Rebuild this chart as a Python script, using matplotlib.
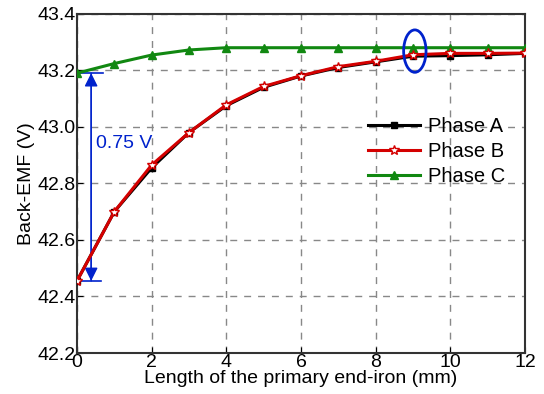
import matplotlib.pyplot as plt
from matplotlib.patches import Ellipse

plt.rcParams['font.family'] = ['Liberation Sans', 'DejaVu Sans']

length = [0, 1, 2, 3, 4, 5, 6, 7, 8, 9, 10, 11, 12]
phase_a = [42.455, 42.70, 42.855, 42.98, 43.075, 43.14, 43.18, 43.21, 43.23, 43.25, 43.252, 43.255, 43.26]
phase_b = [42.455, 42.70, 42.865, 42.98, 43.078, 43.143, 43.181, 43.213, 43.232, 43.255, 43.26, 43.26, 43.261]
phase_c = [43.19, 43.224, 43.254, 43.272, 43.28, 43.28, 43.28, 43.28, 43.28, 43.28, 43.28, 43.28, 43.28]

fig = plt.figure(figsize=(5.44, 3.94), dpi=100)
ax = fig.add_axes([0.1415, 0.104, 0.8235, 0.861])

ax.plot(length, phase_a, color='black', lw=2.2, marker='s', ms=5, label='Phase A', zorder=3)
ax.plot(length, phase_b, color='#d40000', lw=2.2, marker='*', ms=7, mfc='white', mec='#d40000', mew=1, label='Phase B', zorder=4)
ax.plot(length, phase_c, color='#118811', lw=2.2, marker='^', ms=6, label='Phase C', zorder=3)

# 0.75 V annotation
ax.annotate('', xy=(0.38, phase_b[0]), xytext=(0.38, phase_c[0]),
            arrowprops=dict(arrowstyle='-|>', color='#0022cc', lw=1, mutation_scale=20, shrinkA=0, shrinkB=0))
ax.annotate('', xy=(0.38, phase_c[0]), xytext=(0.38, phase_b[0]),
            arrowprops=dict(arrowstyle='-|>', color='#0022cc', lw=1, mutation_scale=20, shrinkA=0, shrinkB=0))
ax.plot([0, 0.7], [phase_c[0], phase_c[0]], color='#0022cc', lw=1.2)
ax.plot([0, 0.65], [phase_b[0], phase_b[0]], color='#0022cc', lw=1.2)
ax.text(0.52, 42.94, '0.75 V', color='#0022cc', fontsize=14, va='center')

ax.add_patch(Ellipse((9.05, 43.268), 0.6, 0.15, fill=False, ec='#0022cc', lw=2, zorder=5))

ax.set_xlim(0, 12)
ax.set_ylim(42.2, 43.4)
ax.set_xticks(range(0, 13, 2))
ax.set_yticks([42.2, 42.4, 42.6, 42.8, 43.0, 43.2, 43.4])
ax.set_yticklabels(['42.2', '42.4', '42.6', '42.8', '43.0', '43.2', '43.4'])
ax.grid(True, ls=(0, (5, 5)), color='#888888', lw=1)
ax.tick_params(direction='in', labelsize=14, pad=1, length=4)
for s in ax.spines.values():
    s.set_linewidth(1.5)
    s.set_color('#333333')

ax.set_xlabel('Length of the primary end-iron (mm)', fontsize=14, labelpad=-1)
ax.set_ylabel('Back-EMF (V)', fontsize=14, labelpad=2)

leg = ax.legend(loc='upper right', bbox_to_anchor=(0.975, 0.72), fontsize=14.5, frameon=False,
                handlelength=2.6, labelspacing=0.3, borderaxespad=0.0, handletextpad=0.4)

fig.savefig('out.png', dpi=100)
